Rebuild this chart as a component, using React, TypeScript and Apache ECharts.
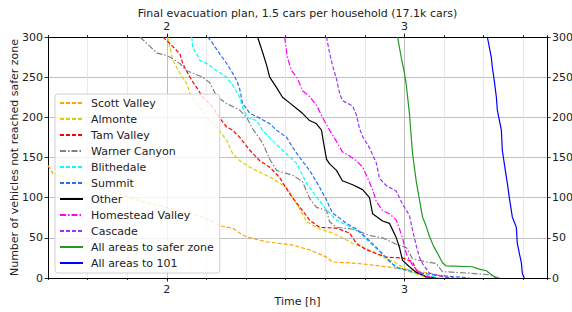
import React, { useEffect, useRef } from "react";
import * as echarts from "echarts";

const TITLE = "Final evacuation plan, 1.5 cars per household (17.1k cars)";
const X_NAME = "Time [h]";
const Y_NAME = "Number of vehicles not reached safer zone";
const X_LABELS = [2, 3];

const scottValley: [number, number][] = [
  [1.5, 140], [1.521, 130], [1.58, 124], [1.664, 118], [1.718, 112], [1.803, 104], [1.887, 96],
  [1.971, 90], [2.034, 85], [2.097, 80], [2.16, 75], [2.193, 70], [2.223, 65], [2.277, 62],
  [2.307, 56], [2.336, 51], [2.42, 45], [2.529, 41], [2.601, 35], [2.672, 26], [2.697, 20],
  [2.811, 18], [2.924, 14], [3.034, 10], [3.105, 6], [3.176, 2], [3.189, 0],
];
const almonte: [number, number][] = [
  [2.004, 300], [2.025, 271], [2.055, 255], [2.084, 242], [2.097, 230], [2.126, 217], [2.168, 200],
  [2.21, 188], [2.252, 171], [2.277, 155], [2.307, 146], [2.349, 138], [2.403, 130], [2.445, 124],
  [2.475, 118], [2.504, 113], [2.529, 101], [2.559, 86], [2.588, 70], [2.643, 61], [2.697, 56],
  [2.739, 50], [2.782, 43], [2.84, 37], [2.895, 28], [2.958, 20], [3.02, 8], [3.084, 2], [3.126, 0],
];
const tamValley: [number, number][] = [
  [1.983, 300], [2.013, 292], [2.055, 279], [2.067, 267], [2.088, 255], [2.105, 246], [2.126, 237],
  [2.151, 225], [2.181, 217], [2.202, 209], [2.223, 199], [2.252, 188], [2.277, 184], [2.307, 175],
  [2.349, 159], [2.391, 146], [2.433, 138], [2.475, 125], [2.504, 111], [2.529, 100], [2.571, 84],
  [2.601, 72], [2.643, 63], [2.714, 62], [2.769, 56], [2.798, 43], [2.84, 35], [2.924, 26],
  [2.992, 25], [3.034, 20], [3.05, 10], [3.092, 1], [3.105, 0],
];
const warnerCanyon: [number, number][] = [
  [1.887, 300], [1.916, 292], [1.958, 280], [2.0, 277], [2.025, 273], [2.055, 267], [2.084, 258],
  [2.109, 255], [2.151, 250], [2.181, 243], [2.21, 226], [2.252, 217], [2.307, 209], [2.336, 200],
  [2.361, 186], [2.403, 168], [2.433, 148], [2.462, 134], [2.529, 128], [2.571, 120], [2.601, 99],
  [2.63, 88], [2.672, 84], [2.685, 70], [2.714, 63], [2.782, 61], [2.853, 53], [2.908, 50],
  [2.966, 42], [3.008, 38], [3.034, 24], [3.092, 20], [3.134, 18], [3.16, 8], [3.273, 6],
  [3.357, 4], [3.387, 1], [3.4, 0],
];
const blithedale: [number, number][] = [
  [2.105, 300], [2.109, 287], [2.126, 279], [2.139, 271], [2.168, 267], [2.21, 258], [2.252, 250],
  [2.277, 240], [2.307, 225], [2.319, 212], [2.34, 200], [2.378, 196], [2.403, 184], [2.445, 171],
  [2.487, 159], [2.546, 143], [2.588, 118], [2.63, 101], [2.672, 85], [2.714, 72], [2.769, 64],
  [2.811, 57], [2.853, 44], [2.895, 33], [2.937, 20], [2.979, 12], [3.034, 7], [3.105, 3], [3.147, 0],
];
const summit: [number, number][] = [
  [2.172, 300], [2.193, 292], [2.223, 279], [2.252, 267], [2.277, 255], [2.294, 246], [2.307, 235],
  [2.319, 217], [2.34, 209], [2.349, 205], [2.391, 199], [2.433, 192], [2.462, 184], [2.504, 175],
  [2.529, 163], [2.559, 150], [2.601, 134], [2.643, 113], [2.672, 97], [2.697, 81], [2.756, 68],
  [2.798, 61], [2.84, 50], [2.882, 38], [2.924, 25], [2.966, 13], [3.021, 9], [3.076, 6],
  [3.147, 3], [3.218, 1.5], [3.273, 0],
];
const other: [number, number][] = [
  [2.382, 300], [2.403, 281], [2.42, 265], [2.433, 250], [2.462, 237], [2.487, 225], [2.517, 218],
  [2.546, 211], [2.571, 205], [2.601, 196], [2.63, 192], [2.651, 184], [2.66, 168], [2.672, 148],
  [2.685, 142], [2.714, 134], [2.739, 121], [2.782, 116], [2.824, 110], [2.853, 100], [2.866, 80],
  [2.908, 71], [2.937, 68], [2.966, 50], [2.979, 38], [2.992, 22], [3.021, 14], [3.05, 7],
  [3.092, 1.5], [3.134, 0],
];
const homesteadValley: [number, number][] = [
  [2.496, 300], [2.508, 274], [2.525, 258], [2.546, 250], [2.559, 242], [2.571, 233], [2.601, 226],
  [2.63, 215], [2.655, 200], [2.685, 184], [2.714, 170], [2.739, 157], [2.769, 152], [2.798, 146],
  [2.824, 138], [2.84, 128], [2.866, 110], [2.882, 95], [2.908, 84], [2.937, 80], [2.966, 72],
  [2.992, 50], [3.008, 30], [3.034, 16], [3.063, 6], [3.092, 1.5], [3.134, 0],
];
const cascade: [number, number][] = [
  [2.672, 300], [2.685, 280], [2.697, 265], [2.714, 248], [2.727, 230], [2.739, 221], [2.782, 214],
  [2.798, 203], [2.811, 186], [2.824, 176], [2.853, 162], [2.882, 143], [2.895, 124], [2.924, 115],
  [2.966, 108], [2.992, 92], [3.021, 78], [3.034, 60], [3.05, 40], [3.063, 26], [3.076, 18],
  [3.105, 6], [3.16, 1.5], [3.21, 0],
];
const allToSaferZone: [number, number][] = [
  [2.971, 300], [2.987, 274], [3.0, 255], [3.008, 240], [3.021, 205], [3.034, 155], [3.05, 120],
  [3.063, 98], [3.076, 76], [3.092, 64], [3.105, 52], [3.122, 40], [3.139, 31], [3.16, 19],
  [3.176, 15], [3.286, 14], [3.315, 11], [3.345, 9], [3.37, 3], [3.387, 0],
];
const allTo101: [number, number][] = [
  [3.349, 300], [3.366, 274], [3.37, 262], [3.378, 246], [3.387, 225], [3.391, 209], [3.408, 184],
  [3.412, 159], [3.42, 143], [3.433, 118], [3.441, 101], [3.454, 76], [3.471, 63], [3.475, 43],
  [3.492, 19], [3.496, 6], [3.504, 0],
];

const DASH = [4, 2];
const DASHDOT = [6, 2, 1.5, 2];
const SERIES_DEFS: { name: string; data: [number, number][]; color: string; dash: any }[] = [
  { name: "Scott Valley", data: scottValley, color: "#ffa500", dash: DASH },
  { name: "Almonte", data: almonte, color: "#e0cc00", dash: DASH },
  { name: "Tam Valley", data: tamValley, color: "#ff0000", dash: DASH },
  { name: "Warner Canyon", data: warnerCanyon, color: "#808080", dash: DASHDOT },
  { name: "Blithedale", data: blithedale, color: "#00ffff", dash: DASH },
  { name: "Summit", data: summit, color: "#2a6ff0", dash: DASH },
  { name: "Other", data: other, color: "#000000", dash: "solid" },
  { name: "Homestead Valley", data: homesteadValley, color: "#ff00ff", dash: DASHDOT },
  { name: "Cascade", data: cascade, color: "#9933ff", dash: DASH },
  { name: "All areas to safer zone", data: allToSaferZone, color: "#1f9a1f", dash: "solid" },
  { name: "All areas to 101", data: allTo101, color: "#0000ff", dash: "solid" },
];

const FONT = "DejaVu Sans";
const TXT = "#222";
const MAJOR = "#b0b0b0";
const MINOR = "#e4e4e4";

export default function App() {
  const ref = useRef<HTMLDivElement>(null);
  useEffect(() => {
    if (!ref.current) return;
    const chart = echarts.init(ref.current, null, { renderer: "svg" });
    const baseX = { type: "value", gridIndex: 0, min: 1.5, max: 3.6 };
    const option: any = {
      animation: false,
      backgroundColor: "#fff",
      textStyle: { fontFamily: FONT },
      grid: { left: 48, right: 25, top: 37, bottom: 34, containLabel: false, outerBoundsMode: "none" },
      graphic: [
        {
          type: "text",
          x: 297.5,
          y: 13,
          style: { text: TITLE, textAlign: "center", textVerticalAlign: "middle", font: `11px '${FONT}'`, fill: TXT },
        },
      ],
      legend: {
        orient: "vertical",
        left: 55,
        top: 94,
        backgroundColor: "rgba(255,255,255,0.8)",
        borderColor: "#d0d0d0",
        borderWidth: 1,
        borderRadius: 3,
        padding: [3, 6, 4, 4],
        itemWidth: 23,
        itemHeight: 12,
        itemGap: 4,
        itemStyle: { color: "rgba(0,0,0,0)", borderColor: "rgba(0,0,0,0)", borderWidth: 0, opacity: 0 },
        textStyle: { fontFamily: FONT, fontSize: 11, color: TXT, lineHeight: 12, padding: [0, 0, 0, 3] },
      },
      xAxis: [
        {
          ...baseX,
          position: "bottom",
          interval: 1 / 6,
          axisLine: { show: true, lineStyle: { color: "#000", width: 1 } },
          axisTick: { show: true, length: 2, lineStyle: { color: "#000", width: 0.8 } },
          axisLabel: { show: false },
          splitLine: { show: true, lineStyle: { color: [MINOR, MINOR, MINOR, MAJOR, MINOR, MINOR], width: 0.8 } },
        },
        {
          ...baseX,
          position: "bottom",
          interval: 0.5,
          name: X_NAME,
          nameLocation: "middle",
          nameGap: 18,
          nameMoveOverlap: false,
          nameTextStyle: { fontFamily: FONT, fontSize: 11, color: TXT },
          axisLine: { show: false },
          axisTick: { show: true, length: 3.5, customValues: X_LABELS, lineStyle: { color: "#000", width: 0.8 } },
          axisLabel: { show: true, customValues: X_LABELS, margin: 6, fontFamily: FONT, fontSize: 11, color: TXT, formatter: (v: number) => String(v) },
          splitLine: { show: false },
        },
        {
          ...baseX,
          position: "top",
          interval: 1 / 6,
          axisLine: { show: true, lineStyle: { color: "#000", width: 1 } },
          axisTick: { show: true, length: 2, lineStyle: { color: "#000", width: 0.8 } },
          axisLabel: { show: false },
          splitLine: { show: false },
        },
        {
          ...baseX,
          position: "top",
          interval: 0.5,
          axisLine: { show: false },
          axisTick: { show: true, length: 3.5, customValues: X_LABELS, lineStyle: { color: "#000", width: 0.8 } },
          axisLabel: { show: true, customValues: X_LABELS, margin: 5, fontFamily: FONT, fontSize: 11, color: TXT, formatter: (v: number) => String(v) },
          splitLine: { show: false },
        },
      ],
      yAxis: [
        {
          type: "value",
          position: "left",
          min: 0,
          max: 300,
          interval: 50,
          name: Y_NAME,
          nameLocation: "middle",
          nameRotate: 90,
          nameGap: 28,
          nameMoveOverlap: false,
          nameTextStyle: { fontFamily: FONT, fontSize: 11, color: TXT },
          axisLine: { show: true, lineStyle: { color: "#000", width: 1 } },
          axisTick: { show: true, length: 3.5, lineStyle: { color: "#000", width: 0.8 } },
          axisLabel: { margin: 5, fontFamily: FONT, fontSize: 11, color: TXT },
          splitLine: { show: true, lineStyle: { color: MAJOR, width: 0.8 } },
        },
        {
          type: "value",
          position: "right",
          min: 0,
          max: 300,
          interval: 50,
          axisLine: { show: true, lineStyle: { color: "#000", width: 1 } },
          axisTick: { show: true, length: 3.5, lineStyle: { color: "#000", width: 0.8 } },
          axisLabel: { margin: 5, fontFamily: FONT, fontSize: 11, color: TXT },
          splitLine: { show: false },
        },
      ],
      series: SERIES_DEFS.map((s) => ({
        name: s.name,
        type: "line",
        xAxisIndex: 0,
        yAxisIndex: 0,
        data: s.data,
        showSymbol: false,
        symbol: "none",
        clip: true,
        color: s.color,
        lineStyle: { color: s.color, width: 1.2, type: s.dash },
      })),
    };
    chart.setOption(option);
    return () => chart.dispose();
  }, []);
  return <div ref={ref} style={{ width: 572, height: 312, position: "absolute", left: 0, top: 0 }} />;
}
